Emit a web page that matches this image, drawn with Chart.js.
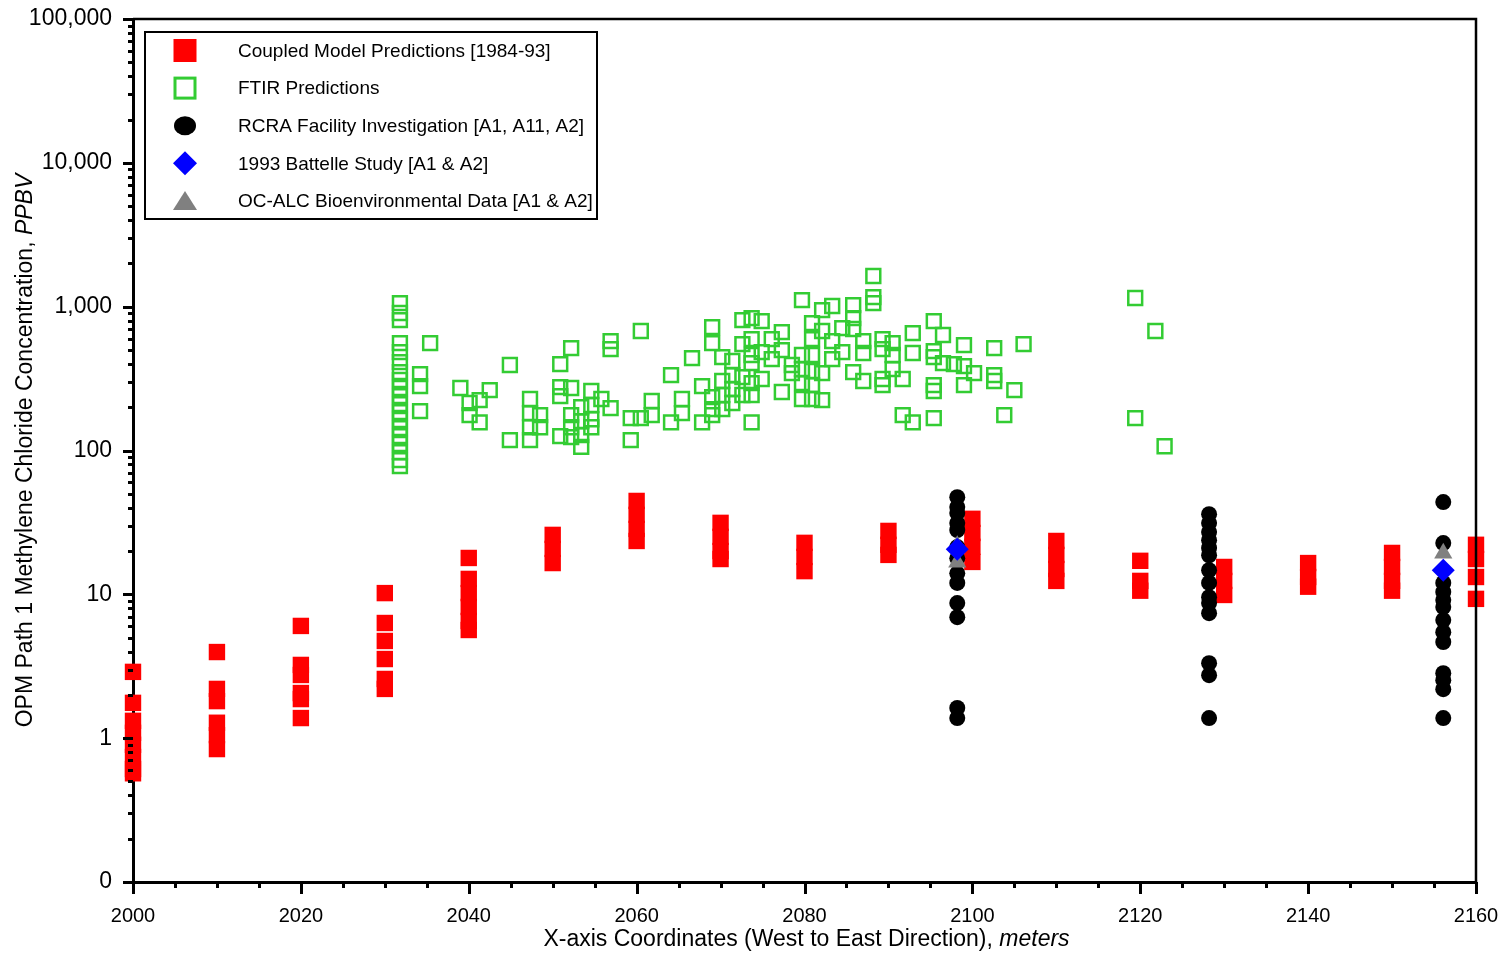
<!DOCTYPE html>
<html>
<head>
<meta charset="utf-8">
<script src="https://cdn.jsdelivr.net/npm/chart.js@4.4.1/dist/chart.umd.min.js"></script>
<style>
  html, body { margin: 0; padding: 0; background: #fff; }
</style>
</head>
<body>
<canvas id="chart" width="1509" height="953"></canvas>
<script>
// --- DATA ---
// Coupled model predictions: one column of values per x position
const coupledX = [2000, 2010, 2020, 2030, 2040, 2050, 2060, 2070, 2080, 2090, 2100, 2110, 2120, 2130, 2140, 2150, 2160];
const coupledVals = [
  [2.89, 1.76, 1.32, 1.09, 0.9, 0.74, 0.61, 0.57],
  [3.97, 2.2, 1.81, 1.28, 1.05, 0.84],
  [6.03, 3.23, 2.75, 2.06, 1.87, 1.38],
  [10.2, 6.32, 4.74, 3.55, 2.58, 2.2],
  [17.9, 12.8, 10.2, 8.17, 6.53, 5.65],
  [25.9, 20.7, 16.5],
  [44.6, 35.7, 28.5, 23.5],
  [31.4, 25.1, 20.0, 17.6],
  [22.8, 18.2, 14.5],
  [27.6, 22.1, 18.8],
  [33.5, 26.7, 21.4, 16.8],
  [23.5, 18.8, 15.0, 12.4],
  [17.1, 12.4, 10.6],
  [15.5, 12.4, 9.9],
  [16.5, 13.2, 11.3],
  [19.4, 15.5, 12.4, 10.6],
  [22.1, 17.6, 13.2, 9.3]
];

// FTIR predictions
const ftirX = [2031.8, 2034.2, 2035.4, 2039.0, 2040.1, 2041.3, 2042.5, 2044.9, 2047.3, 2048.5,
  2050.9, 2052.2, 2053.4, 2054.6, 2055.8, 2056.9, 2059.3, 2060.5, 2061.8, 2064.1,
  2065.4, 2066.6, 2067.8, 2069.0, 2070.2, 2071.4, 2072.6, 2073.7, 2074.9, 2076.1,
  2077.3, 2078.5, 2079.7, 2080.9, 2082.1, 2083.3, 2084.5, 2085.8, 2087.0, 2088.2,
  2089.3, 2090.5, 2091.7, 2092.9, 2095.4, 2096.5, 2097.8, 2099.0, 2100.2, 2102.6,
  2103.8, 2105.0, 2106.1, 2119.4, 2121.8, 2122.9];
const ftirVals = [
  [1059, 903, 807, 558, 483, 412, 351, 309, 272, 239, 210, 185, 163, 143, 126, 111, 97.5, 85.8, 77.9],
  [340, 280, 188], [558], [272], [214, 176], [224, 157], [263], [393, 118],
  [228, 182, 145, 118], [176, 145],
  [399, 276, 239, 126], [515, 272, 176, 145, 124], [200, 160, 128, 106], [259, 207, 165, 145], [228],
  [576, 507, 197], [168, 118], [677, 168], [221, 176], [334, 157],
  [228, 182], [439], [280, 157], [721, 558, 235, 194, 176], [446, 304, 243, 194],
  [419, 334, 267, 214], [807, 549, 324, 243], [833, 595, 461, 405, 294, 243, 157], [794, 483, 314], [595, 432],
  [666, 499, 255], [393, 345], [1111, 461, 368, 294, 228], [769, 595, 461, 357, 285, 228], [947, 677, 345, 224],
  [1010, 576, 432], [710, 483], [1026, 833, 699, 351], [576, 476, 304], [1633, 1166, 1059],
  [595, 507, 314, 285], [558, 461, 368], [314, 176], [655, 476, 157], [794, 491, 446, 285, 259, 168],
  [635, 405], [399], [540, 386, 285], [345], [515, 334, 304],
  [176], [263], [549], [1148, 168], [677], [107]
];

// RCRA facility investigation
const rcraX = [2098.2, 2128.2, 2156.1];
const rcraVals = [
  [47.4, 40.4, 36.7, 31.3, 28.0, 21.3, 17.8, 14.0, 12.0, 8.69, 6.94, 1.62, 1.38],
  [36.1, 31.3, 27.1, 23.8, 21.0, 18.7, 14.7, 12.0, 9.56, 8.69, 7.4, 3.32, 2.74, 1.38],
  [43.8, 22.7, 12.0, 10.4, 9.12, 8.15, 6.62, 5.46, 4.66, 2.83, 2.53, 2.19, 1.38]
];

// 1993 Battelle study
const battelleX = [2098.2, 2156.1];
const battelleVals = [20.6, 14.7];

// OC-ALC bioenvironmental data
const ocalcX = [2098.2, 2098.2, 2156.1];
const ocalcVals = [21.8, 16.7, 19.3];

// axis ticks
const xTicks = [2000, 2020, 2040, 2060, 2080, 2100, 2120, 2140, 2160];
const yTicks = [0.1, 1, 10, 100, 1000, 10000, 100000];

const legendLabels = [
  "Coupled Model Predictions [1984-93]",
  "FTIR Predictions",
  "RCRA Facility Investigation [A1, A11, A2]",
  "1993 Battelle Study [A1 & A2]",
  "OC-ALC Bioenvironmental Data [A1 & A2]"
];


// columns -> points
function columns(xs, vals) {
  const out = [];
  xs.forEach((x, i) => vals[i].forEach(v => out.push({ x: x, y: v })));
  return out;
}
function single(xs, vals) {
  return xs.map((x, i) => ({ x: x, y: vals[i] }));
}

const FONT = "'Liberation Sans', Arial, sans-serif";

// --- AXES, FRAME, TITLES, LEGEND ---
const decor = {
  id: "decor",
  afterDraw(chart) {
    const ctx = chart.ctx;
    const a = chart.chartArea;
    const xs = chart.scales.x, ys = chart.scales.y;
    ctx.save();

    // top + right frame
    ctx.strokeStyle = "#000";
    ctx.lineWidth = 2.5;
    ctx.beginPath();
    ctx.moveTo(a.left, a.top);
    ctx.lineTo(a.right, a.top);
    ctx.lineTo(a.right, a.bottom);
    ctx.stroke();

    // ticks
    ctx.lineWidth = 3;
    ctx.beginPath();
    for (let d = 0.1; d <= 100000; d *= 10) {
      for (let m = 1; m <= 9; m++) {
        const v = d * m;
        if (v > 100001) break;
        const py = Math.round(ys.getPixelForValue(v)) + 0.5;
        const len = m === 1 ? 10 : 5;
        ctx.moveTo(a.left, py);
        ctx.lineTo(a.left - len, py);
      }
    }
    for (let x = 2000; x <= 2160; x += 5) {
      const px = Math.round(xs.getPixelForValue(x)) + 0.5;
      const len = x % 20 === 0 ? 12 : 6;
      ctx.moveTo(px, a.bottom);
      ctx.lineTo(px, a.bottom + len);
    }
    ctx.stroke();

    // axis titles (mixed upright / italic)
    ctx.fillStyle = "#000";
    ctx.textBaseline = "middle";
    ctx.textAlign = "left";
    function mixed(plain, ital, cx, cy, rot) {
      ctx.save();
      ctx.translate(cx, cy);
      ctx.rotate(rot);
      ctx.font = "23px " + FONT;
      const w1 = ctx.measureText(plain).width;
      ctx.font = "italic 23px " + FONT;
      const w2 = ctx.measureText(ital).width;
      const x0 = -(w1 + w2) / 2;
      ctx.font = "23px " + FONT;
      ctx.fillText(plain, x0, 0);
      ctx.font = "italic 23px " + FONT;
      ctx.fillText(ital, x0 + w1, 0);
      ctx.restore();
    }
    mixed("OPM Path 1 Methylene Chloride Concentration, ", "PPBV", 26, (a.top + a.bottom) / 2, -Math.PI / 2);
    mixed("X-axis Coordinates (West to East Direction), ", "meters", (a.left + a.right) / 2 + 2, 940, 0);

    // legend box
    const lx = a.left + 12, ly = a.top + 13, lw = 452, lh = 187;
    ctx.fillStyle = "#fff";
    ctx.fillRect(lx, ly, lw, lh);
    ctx.lineWidth = 2;
    ctx.strokeStyle = "#000";
    ctx.strokeRect(lx, ly, lw, lh);

    const mx = a.left + 52;
    const rows = legendLabels.map((t, i) => a.top + 31.5 + i * 37.6);

    // markers
    ctx.fillStyle = "#ff0000";
    ctx.fillRect(mx - 11.5, rows[0] - 11.5, 23, 23);

    ctx.strokeStyle = "#33cc33";
    ctx.lineWidth = 3;
    ctx.strokeRect(mx - 10, rows[1] - 10, 20, 20);

    ctx.fillStyle = "#000";
    ctx.beginPath();
    ctx.ellipse(mx, rows[2], 11, 9.5, 0, 0, Math.PI * 2);
    ctx.fill();

    ctx.fillStyle = "#0000ff";
    ctx.beginPath();
    ctx.moveTo(mx, rows[3] - 12);
    ctx.lineTo(mx + 12, rows[3]);
    ctx.lineTo(mx, rows[3] + 12);
    ctx.lineTo(mx - 12, rows[3]);
    ctx.closePath();
    ctx.fill();

    ctx.fillStyle = "#808080";
    ctx.beginPath();
    ctx.moveTo(mx, rows[4] - 10);
    ctx.lineTo(mx + 12, rows[4] + 9);
    ctx.lineTo(mx - 12, rows[4] + 9);
    ctx.closePath();
    ctx.fill();

    // labels
    ctx.fillStyle = "#000";
    ctx.font = "19px " + FONT;
    ctx.textBaseline = "middle";
    legendLabels.forEach((t, i) => ctx.fillText(t, a.left + 105, rows[i] + 1));

    ctx.restore();
  }
};


// --- CHART ---
new Chart(document.getElementById("chart"), {
  type: "scatter",
  data: {
    datasets: [
      {
        label: legendLabels[0],
        data: columns(coupledX, coupledVals),
        pointStyle: "rect",
        pointRadius: 11.6,
        backgroundColor: "#ff0000",
        borderWidth: 0,
        clip: false,
        order: 4
      },
      {
        label: legendLabels[1],
        data: columns(ftirX, ftirVals),
        pointStyle: "rect",
        pointRadius: 9.8,
        backgroundColor: "rgba(0,0,0,0)",
        borderColor: "#33cc33",
        borderWidth: 2.5,
        order: 3
      },
      {
        label: legendLabels[2],
        data: columns(rcraX, rcraVals),
        pointStyle: "circle",
        pointRadius: 8,
        backgroundColor: "#000",
        borderWidth: 0,
        order: 2
      },
      {
        label: legendLabels[3],
        data: single(battelleX, battelleVals),
        pointStyle: "rectRot",
        pointRadius: 11.5,
        backgroundColor: "#0000ff",
        borderWidth: 0,
        order: 0
      },
      {
        label: legendLabels[4],
        data: single(ocalcX, ocalcVals),
        pointStyle: "triangle",
        pointRadius: 10.5,
        backgroundColor: "#808080",
        borderWidth: 0,
        order: 1
      }
    ]
  },
  options: {
    responsive: false,
    animation: false,
    events: [],
    layout: { padding: { top: 19, right: 33, left: 0, bottom: 0 } },
    plugins: {
      legend: { display: false },
      tooltip: { enabled: false }
    },
    scales: {
      x: {
        type: "linear",
        min: 2000,
        max: 2160,
        afterBuildTicks: s => { s.ticks = xTicks.map(v => ({ value: v })); },
        afterFit: s => { s.height = 71; s.paddingLeft = 0; s.paddingRight = 0; },
        ticks: {
          color: "#000",
          padding: 22,
          maxRotation: 0,
          font: { family: FONT, size: 20 },
          callback: v => String(v)
        },
        grid: { drawOnChartArea: false, drawTicks: false },
        border: { color: "#000", width: 3 }
      },
      y: {
        type: "logarithmic",
        min: 0.1,
        max: 100000,
        afterBuildTicks: s => { s.ticks = yTicks.map(v => ({ value: v })); },
        afterFit: s => { s.width = 133; s.paddingTop = 0; s.paddingBottom = 0; },
        ticks: {
          color: "#000",
          padding: 21,
          font: { family: FONT, size: 23 },
          callback: v => v < 1 ? "0" : Number(v).toLocaleString("en-US")
        },
        grid: { drawOnChartArea: false, drawTicks: false },
        border: { color: "#000", width: 3 }
      }
    }
  },
  plugins: [decor]
});
</script>
</body>
</html>
